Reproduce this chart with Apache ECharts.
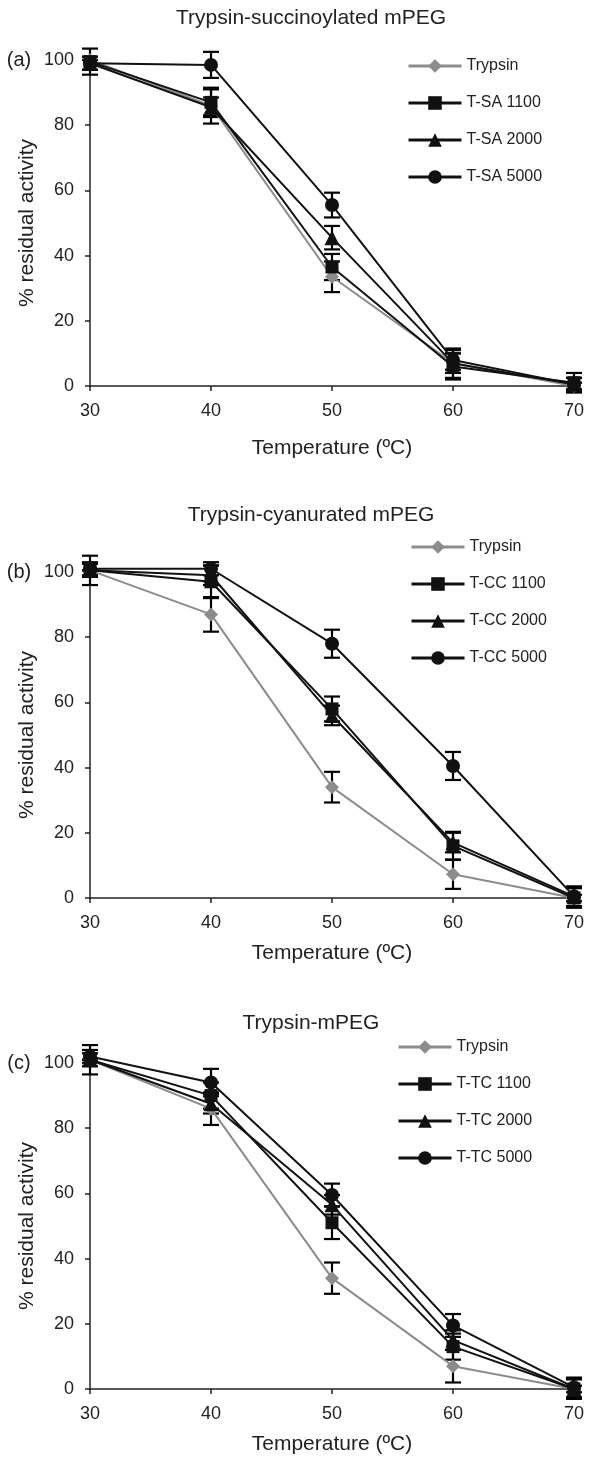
<!DOCTYPE html>
<html>
<head>
<meta charset="utf-8">
<script src="https://cdn.jsdelivr.net/npm/echarts@6/dist/echarts.min.js"></script>
<style>
  html, body { margin: 0; padding: 0; background: #fff; }
  #chart { width: 589px; height: 1458px; }
</style>
</head>
<body>
<div id="chart"></div>
<script>
// temperatures (ºC) on the x axis
const temps = [30, 40, 50, 60, 70]
const xTicks = [30, 40, 50, 60, 70]
const yTicks = [0, 20, 40, 60, 80, 100]

// (a) Trypsin-succinoylated mPEG
const namesA = ['Trypsin', 'T-SA 1100', 'T-SA 2000', 'T-SA 5000']
const trypsinA = [100, 86, 33.5, 7, 0]
const tsa1100 = [99.5, 87, 36.5, 6, 1]
const tsa2000 = [99, 85.5, 45.5, 7, 0.5]
const tsa5000 = [99, 98.5, 55.5, 8, 0.5]
const errTrypsinA = [0, 5.5, 4.7, 4.5, 1]
const errTsa1100 = [4, 4, 4, 4, 3]
const errTsa2000 = [2, 3, 3.6, 3, 2]
const errTsa5000 = [2, 4, 3.8, 3, 2]

// (b) Trypsin-cyanurated mPEG
const namesB = ['Trypsin', 'T-CC 1100', 'T-CC 2000', 'T-CC 5000']
const trypsinB = [100.5, 87, 34, 7.3, 0]
const tcc1100 = [100.5, 97, 58, 16, 0]
const tcc2000 = [100.5, 99, 56, 17, 0.5]
const tcc5000 = [101, 101, 78, 40.5, 0.5]
const errTrypsinB = [0, 5.3, 4.7, 4.5, 1]
const errTcc1100 = [4.5, 5, 3.8, 4.3, 3]
const errTcc2000 = [2, 3, 3, 3, 3]
const errTcc5000 = [2, 2, 4.3, 4.3, 3]

// (c) Trypsin-mPEG
const namesC = ['Trypsin', 'T-TC 1100', 'T-TC 2000', 'T-TC 5000']
const trypsinC = [101, 86, 34, 7, 0]
const ttc1100 = [101, 90, 51, 13, 0]
const ttc2000 = [101, 87.5, 56.5, 15, 0]
const ttc5000 = [102, 94, 59.5, 19.5, 0.5]
const errTrypsinC = [0, 5, 4.8, 5, 1]
const errTtc1100 = [4.5, 4, 5, 4, 3]
const errTtc2000 = [2, 3, 3, 3, 3]
const errTtc5000 = [2, 4.2, 3.5, 3.5, 3]

const FONT = 'Liberation Sans, Arial, sans-serif'
const GRAY = '#8c8c8c'
const BLACK = '#111'
const symbols = ['diamond', 'rect', 'triangle', 'circle']
const symbolSizes = [14, 13, 15, 14]

const panels = [
  { tag: '(a)', title: 'Trypsin-succinoylated mPEG', top: 60, titleY: 18, legendLeft: 407, legendTop: 58, nameGap: 52,
    names: namesA, values: [trypsinA, tsa1100, tsa2000, tsa5000], errors: [errTrypsinA, errTsa1100, errTsa2000, errTsa5000] },
  { tag: '(b)', title: 'Trypsin-cyanurated mPEG', top: 572, titleY: 515, legendLeft: 410, legendTop: 539, nameGap: 45,
    names: namesB, values: [trypsinB, tcc1100, tcc2000, tcc5000], errors: [errTrypsinB, errTcc1100, errTcc2000, errTcc5000] },
  { tag: '(c)', title: 'Trypsin-mPEG', top: 1063, titleY: 1023, legendLeft: 397, legendTop: 1039, nameGap: 45,
    names: namesC, values: [trypsinC, ttc1100, ttc2000, ttc5000], errors: [errTrypsinC, errTtc1100, errTtc2000, errTtc5000] }
]
const PLOT_H = 326

// error bar with caps, drawn through the axis scales
function errorBar(params, api) {
  const x = api.value(0)
  const top = api.coord([x, api.value(2)])
  const bot = api.coord([x, api.value(1)])
  const cap = 8
  const style = { stroke: '#000', lineWidth: 2.2 }
  return {
    type: 'group',
    children: [
      { type: 'line', shape: { x1: top[0], y1: top[1], x2: bot[0], y2: bot[1] }, style },
      { type: 'line', shape: { x1: top[0] - cap, y1: top[1], x2: top[0] + cap, y2: top[1] }, style },
      { type: 'line', shape: { x1: bot[0] - cap, y1: bot[1], x2: bot[0] + cap, y2: bot[1] }, style }
    ]
  }
}

const grid = [], xAxis = [], yAxis = [], series = [], legend = [], graphic = []
panels.forEach((p, i) => {
  grid.push({ left: 90, width: 484, top: p.top, height: PLOT_H })
  xAxis.push({
    type: 'value', gridIndex: i, min: xTicks[0], max: xTicks[xTicks.length - 1], interval: 10,
    name: 'Temperature (ºC)', nameLocation: 'middle', nameGap: p.nameGap, nameMoveOverlap: false,
    nameTextStyle: { fontFamily: FONT, fontSize: 21, color: '#222' },
    axisLine: { lineStyle: { color: '#222', width: 1.5 } },
    axisTick: { show: true, length: 5, lineStyle: { color: '#222', width: 1.5 } },
    axisLabel: { fontFamily: FONT, fontSize: 18, color: '#222', margin: 16 },
    splitLine: { show: false }
  })
  yAxis.push({
    type: 'value', gridIndex: i, min: yTicks[0], max: yTicks[yTicks.length - 1], interval: 20,
    name: '% residual activity', nameLocation: 'middle', nameGap: 52, nameRotate: 90, nameMoveOverlap: false,
    nameTextStyle: { fontFamily: FONT, fontSize: 21, color: '#222' },
    axisLine: { show: true, lineStyle: { color: '#222', width: 1.5 } },
    axisTick: { show: true, length: 5, lineStyle: { color: '#222', width: 1.5 } },
    axisLabel: { fontFamily: FONT, fontSize: 18, color: '#222', margin: 16 },
    splitLine: { show: false }
  })
  p.names.forEach((name, k) => {
    const color = k === 0 ? GRAY : BLACK
    series.push({
      type: 'custom', xAxisIndex: i, yAxisIndex: i, z: 1, silent: true,
      renderItem: errorBar,
      data: temps.map((t, j) => [t, p.values[k][j] - p.errors[k][j], p.values[k][j] + p.errors[k][j]])
    })
    series.push({
      name, type: 'line', xAxisIndex: i, yAxisIndex: i, z: 2 + k, clip: false,
      symbol: symbols[k], symbolSize: symbolSizes[k], showAllSymbol: true,
      itemStyle: { color, borderWidth: 0 },
      lineStyle: { color, width: 2 },
      data: temps.map((t, j) => [t, p.values[k][j]])
    })
  })
  legend.push({
    data: p.names, orient: 'vertical', left: p.legendLeft, top: p.legendTop, padding: 0,
    itemWidth: 53, itemHeight: 17, itemGap: 21, selectedMode: false,
    lineStyle: { width: 3 },
    textStyle: { fontFamily: FONT, fontSize: 16, color: '#222' }
  })
  graphic.push({
    type: 'text', x: 311, y: p.titleY,
    style: { text: p.title, fontFamily: FONT, fontSize: 21, fill: '#222', align: 'center', verticalAlign: 'middle' }
  })
  graphic.push({
    type: 'text', x: 19, y: p.top,
    style: { text: p.tag, fontFamily: FONT, fontSize: 20, fill: '#222', align: 'center', verticalAlign: 'middle' }
  })
})

const chart = echarts.init(document.getElementById('chart'))
chart.setOption({
  animation: false,
  backgroundColor: '#fff',
  grid, xAxis, yAxis, series, legend, graphic
})
</script>
</body>
</html>
